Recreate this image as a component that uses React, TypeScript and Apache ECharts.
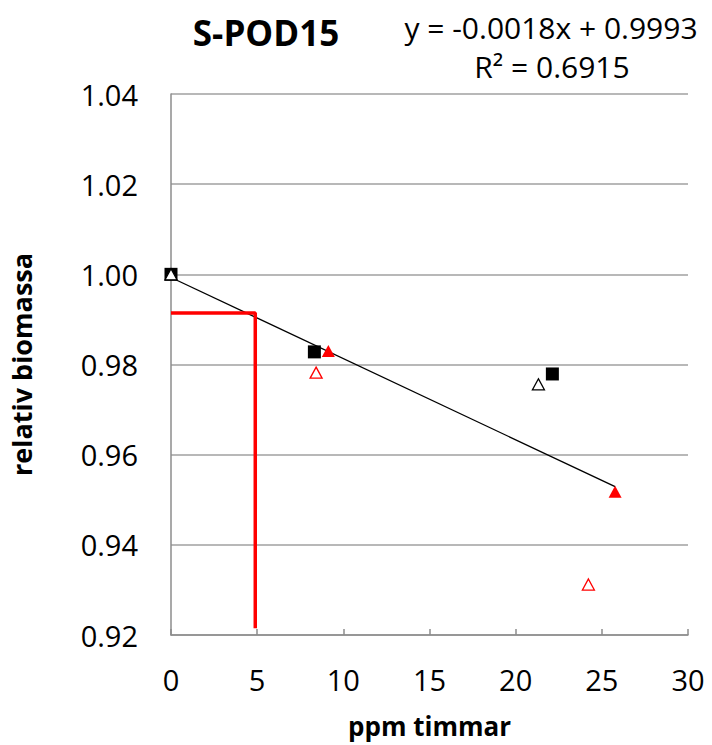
import React, { useEffect, useRef } from "react";
import * as echarts from "echarts";

const xTicks = [0, 5, 10, 15, 20, 25, 30];
const blackSquares: [number, number][] = [[0, 1.0], [8.32, 0.9828], [22.13, 0.9779]];
const blackOpenTriangles: [number, number][] = [[0, 1.0], [21.32, 0.9756]];
const redTriangles: [number, number][] = [[9.13, 0.983], [25.77, 0.9518]];
const redOpenTriangles: [number, number][] = [[8.42, 0.9782], [24.22, 0.9312]];
const slope = -0.0018;
const intercept = 0.9993;
const trendX = [0, 25.77];
const thresholdLine: [number, number][] = [[0, 0.9914], [4.89, 0.9914], [4.89, 0.9215]];
const titleText = "S-POD15";
const eqText = "y = -0.0018x + 0.9993";
const r2Text = "R² = 0.6915";
const xName = "ppm timmar";
const yName = "relativ biomassa";

const FONT = "'Open Sans', sans-serif";

export default function App() {
  const ref = useRef<HTMLDivElement>(null);
  useEffect(() => {
    if (!ref.current) return;
    const chart = echarts.init(ref.current, null, { renderer: "svg" });
    chart.setOption({
      animation: false,
      backgroundColor: "#ffffff",
      grid: { left: 171, top: 94, right: 24, bottom: 110 },
      xAxis: {
        type: "value",
        min: xTicks[0],
        max: xTicks[xTicks.length - 1],
        interval: 5,
        name: xName,
        nameLocation: "middle",
        nameGap: 78,
        nameTextStyle: { fontFamily: FONT, fontWeight: "bold", fontSize: 26, color: "#000" },
        axisLine: { lineStyle: { color: "#8c8c8c", width: 1.5 } },
        axisTick: { inside: true, length: 6, lineStyle: { color: "#8c8c8c", width: 1.5 } },
        axisLabel: { margin: 30, fontFamily: FONT, fontSize: 29, color: "#000" },
        splitLine: { show: false },
      },
      yAxis: {
        type: "value",
        min: 0.92,
        max: 1.04,
        interval: 0.02,
        name: yName,
        nameLocation: "middle",
        nameGap: 136,
        nameTextStyle: { fontFamily: FONT, fontWeight: "bold", fontSize: 27, color: "#000" },
        axisLine: { show: true, lineStyle: { color: "#8c8c8c", width: 1.5 } },
        axisTick: { show: false },
        axisLabel: {
          margin: 33,
          fontFamily: FONT,
          fontSize: 29,
          color: "#000",
          formatter: (v: number) => v.toFixed(2),
        },
        splitLine: { show: true, lineStyle: { color: "#a0a0a0", width: 1.5 } },
      },
      series: [
        {
          type: "line",
          data: trendX.map((x) => [x, intercept + slope * x]),
          symbol: "none",
          lineStyle: { color: "#000", width: 1.3 },
          z: 2,
        },
        {
          type: "line",
          data: thresholdLine,
          symbol: "none",
          lineStyle: { color: "#ff0000", width: 3.5 },
          z: 2,
        },
        {
          type: "scatter",
          data: blackSquares,
          symbol: "rect",
          symbolSize: 13,
          itemStyle: { color: "#000", opacity: 1 },
          z: 3,
        },
        {
          type: "scatter",
          data: blackOpenTriangles,
          symbol: "triangle",
          symbolSize: [12, 11],
          itemStyle: { color: "#fff", borderColor: "#000", borderWidth: 1.3, opacity: 1 },
          z: 4,
        },
        {
          type: "scatter",
          data: redTriangles,
          symbol: "triangle",
          symbolSize: [13, 12],
          itemStyle: { color: "#ff0000", opacity: 1 },
          z: 4,
        },
        {
          type: "scatter",
          data: redOpenTriangles,
          symbol: "triangle",
          symbolSize: [12, 11],
          itemStyle: { color: "#fff", borderColor: "#ff0000", borderWidth: 1.3, opacity: 1 },
          z: 4,
        },
      ],
      graphic: [
        {
          type: "text",
          x: 266,
          y: 32,
          style: {
            text: titleText,
            font: `bold 35px ${FONT}`,
            fill: "#000",
            align: "center",
            verticalAlign: "middle",
          },
        },
        {
          type: "text",
          x: 551,
          y: 27,
          style: {
            text: eqText,
            font: `30px ${FONT}`,
            fill: "#000",
            align: "center",
            verticalAlign: "middle",
          },
        },
        {
          type: "text",
          x: 552,
          y: 66,
          style: {
            text: r2Text,
            font: `30px ${FONT}`,
            fill: "#000",
            align: "center",
            verticalAlign: "middle",
          },
        },
      ],
    });
    return () => chart.dispose();
  }, []);
  return (
    <div
      ref={ref}
      style={{ position: "fixed", left: 0, top: 0, width: 712, height: 745, background: "#fff" }}
    />
  );
}
